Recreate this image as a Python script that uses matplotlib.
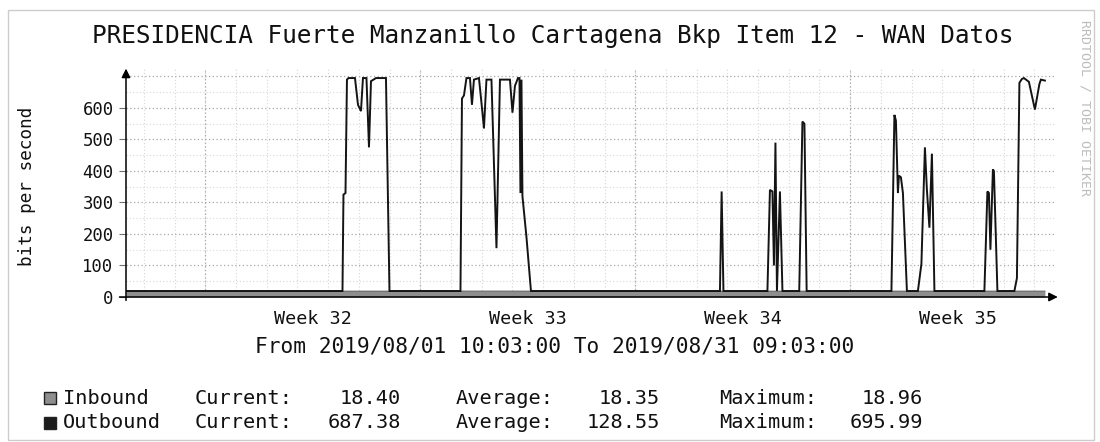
import matplotlib
matplotlib.use("Agg")
import matplotlib.pyplot as plt
from matplotlib.patches import Rectangle
from datetime import datetime

# ---------------- data ----------------
title = "PRESIDENCIA Fuerte Manzanillo Cartagena Bkp Item 12 - WAN Datos"
start = datetime(2019, 8, 1, 10, 3)
end = datetime(2019, 8, 31, 9, 3)

# outbound (days since start, bits per second)
out_days = [0.0, 7.049, 7.081, 7.147, 7.195, 7.244, 7.456, 7.554, 7.651, 7.716, 7.830, 7.912,
            7.977, 8.140, 8.465, 8.579,
            10.891, 10.940, 11.005, 11.086, 11.200, 11.265, 11.330, 11.493, 11.591, 11.656,
            11.737, 11.900, 12.063, 12.177, 12.502, 12.584, 12.665, 12.763, 12.812, 12.844,
            12.877, 12.909, 13.040, 13.186,
            19.340, 19.395, 19.454,
            20.886, 20.968, 21.049, 21.098, 21.147, 21.196, 21.293, 21.375,
            21.922, 22.026, 22.091, 22.163,
            24.924, 25.021, 25.070, 25.135, 25.168, 25.233, 25.298, 25.428,
            25.786, 25.900, 26.014, 26.079, 26.161, 26.242, 26.324,
            27.951, 28.049, 28.098, 28.147, 28.228, 28.261, 28.375,
            28.928, 29.010, 29.091, 29.172, 29.238, 29.400, 29.596, 29.742, 29.791, 29.921]
out_bps = [19, 19, 325, 330, 690, 695, 695, 610, 590, 695, 695, 475,
           685, 695, 695, 19,
           19, 630, 640, 695, 695, 610, 690, 695, 600, 535,
           690, 690, 155, 690, 690, 585, 670, 695, 695, 330,
           690, 320, 190, 19,
           19, 335, 19,
           19, 340, 335, 100, 490, 19, 335, 19,
           19, 557, 550, 19,
           19, 578, 560, 330, 385, 380, 330, 19,
           19, 105, 475, 340, 220, 455, 19,
           19, 335, 330, 150, 405, 400, 19,
           19, 60, 680, 692, 695, 683, 595, 676, 690, 687]

# inbound (days since start, bits per second)
in_days = [0.0, 2.0, 4.0, 6.0, 8.0, 10.0, 12.0, 14.0, 16.0, 18.0, 20.0, 22.0, 24.0, 26.0, 28.0, 29.921]
in_bps = [18.3, 18.4, 18.3, 18.4, 18.3, 18.4, 18.5, 18.3, 18.4, 18.3, 18.4, 18.3, 18.4, 18.3, 18.4, 18.4]

week_labels = ["Week 32", "Week 33", "Week 34", "Week 35"]
week_mid = [datetime(2019, 8, 7, 12), datetime(2019, 8, 14, 12),
            datetime(2019, 8, 21, 12), datetime(2019, 8, 28, 12)]
week_start = [datetime(2019, 8, 4), datetime(2019, 8, 11),
              datetime(2019, 8, 18), datetime(2019, 8, 25)]
y_ticks = [0, 100, 200, 300, 400, 500, 600]

legend_names = ["Inbound", "Outbound"]
legend_current = ["18.40", "687.38"]
legend_average = ["18.35", "128.55"]
legend_maximum = ["18.96", "695.99"]

# ---------------- drawing ----------------
MONO = "DejaVu Sans Mono"
plt.rcParams["font.family"] = MONO

W, H = 1100, 442
fig = plt.figure(figsize=(11, 4.42), dpi=100)
fig.patch.set_facecolor("white")

def fx(px):
    return px / W

def fy(py):
    return 1 - py / H

ax = fig.add_axes([fx(126), fy(297), fx(1055) - fx(126), fy(68.6) - fy(297)])
ax.set_facecolor("white")
ax.set_xlim(0, 30.25)
ax.set_ylim(0, 725)

def dd(t):
    return (t - start).total_seconds() / 86400.0

# grid
first_midnight = datetime(2019, 8, 2)
for k in range(30):
    d = dd(first_midnight) + k
    ax.axvline(d, color="#d6d6d6", lw=0.8, ls=(0, (1, 2)), zorder=0)
for t in week_start:
    ax.axvline(dd(t), color="#a8a8a8", lw=0.9, ls=(0, (1, 2)), zorder=0)
for v in range(50, 725, 100):
    ax.axhline(v, color="#d8d8d8", lw=0.8, ls=(0, (1, 2)), zorder=0)
for v in range(100, 725, 100):
    ax.axhline(v, color="#a8a8a8", lw=0.9, ls=(0, (1, 2)), zorder=0)

# series
ax.fill_between(in_days, in_bps, 0, color="#8e8e8e", lw=0, zorder=2)
ax.plot(in_days, in_bps, color="#555555", lw=0.8, zorder=2)
ax.plot(out_days, out_bps, color="#141414", lw=1.4, zorder=3, solid_joinstyle="miter")

# axes appearance
for s in ax.spines.values():
    s.set_visible(False)
ax.set_yticks(y_ticks)
ax.set_yticklabels([str(v) for v in y_ticks])
ax.tick_params(axis="y", length=5, width=0.8, color="#707070", pad=4,
               labelsize=12.4, labelcolor="#111111")
ax.set_xticks([dd(t) for t in week_mid])
ax.set_xticklabels(week_labels)
ax.tick_params(axis="x", length=0, pad=9, labelsize=13.2, labelcolor="#111111")

ax.annotate("", xy=(1.003, 0), xytext=(-0.007, 0), xycoords="axes fraction",
            arrowprops=dict(arrowstyle="-|>", color="black", lw=1.1,
                            mutation_scale=13, shrinkA=0, shrinkB=0), zorder=5)
ax.annotate("", xy=(0, 1.0), xytext=(0, -0.015), xycoords="axes fraction",
            arrowprops=dict(arrowstyle="-|>", color="black", lw=1.1,
                            mutation_scale=13, shrinkA=0, shrinkB=0), zorder=5)

# texts
fig.text(fx(553), fy(36), title, ha="center", va="center", fontsize=17.6, color="#111111")
fig.text(fx(27), fy(186), "bits per second", ha="center", va="center",
         rotation=90, fontsize=12.7, color="#111111")
fig.text(fx(555), fy(347),
         "From %s To %s" % (start.strftime("%Y/%m/%d %H:%M:%S"), end.strftime("%Y/%m/%d %H:%M:%S")),
         ha="center", va="center", fontsize=15.2, color="#111111")
fig.text(fx(1085), fy(108), "RRDTOOL / TOBI OETIKER", ha="center", va="center",
         rotation=270, fontsize=9.5, color="#bdbdbd")

# legend
row_y = [398, 423]
sq_colors = ["#8e8e8e", "#1c1c1c"]
LFS = 14.6
for i in range(2):
    y = row_y[i]
    fig.add_artist(Rectangle((fx(44), fy(y + 6)), fx(12), fy(y - 6) - fy(y + 6),
                             transform=fig.transFigure, facecolor=sq_colors[i],
                             edgecolor="#222222", lw=1))
    fig.text(fx(63), fy(y), legend_names[i], ha="left", va="center", fontsize=LFS, color="#111111")
    fig.text(fx(195), fy(y), "Current:", ha="left", va="center", fontsize=LFS, color="#111111")
    fig.text(fx(401), fy(y), legend_current[i], ha="right", va="center", fontsize=LFS, color="#111111")
    fig.text(fx(456), fy(y), "Average:", ha="left", va="center", fontsize=LFS, color="#111111")
    fig.text(fx(660), fy(y), legend_average[i], ha="right", va="center", fontsize=LFS, color="#111111")
    fig.text(fx(719), fy(y), "Maximum:", ha="left", va="center", fontsize=LFS, color="#111111")
    fig.text(fx(923), fy(y), legend_maximum[i], ha="right", va="center", fontsize=LFS, color="#111111")

# frame
fig.add_artist(Rectangle((fx(8), fy(440)), fx(1094) - fx(8), fy(10) - fy(440),
                         transform=fig.transFigure, fill=False, edgecolor="#cccccc", lw=1))

fig.savefig("out.png", dpi=100, facecolor="white")
